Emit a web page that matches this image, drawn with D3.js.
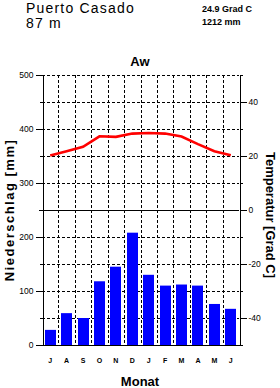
<!DOCTYPE html>
<html>
<head>
  <meta charset="utf-8">
  <script src="https://cdnjs.cloudflare.com/ajax/libs/d3/7.8.5/d3.min.js"></script>
  <style>
    body { margin: 0; background: #fff; }
    text { font-family: "Liberation Sans", Arial, Helvetica, sans-serif; fill: #000; }
    .grid { stroke: #000; stroke-width: 1; stroke-dasharray: 3,2; shape-rendering: crispEdges; }
    .axis path, .axis line { stroke: #000; shape-rendering: crispEdges; }
    .axis text { font-size: 8.5px; }
    .bold { font-weight: bold; }
  </style>
</head>
<body>
  <div id="chart"></div>
  <script>
    // station data
    const station = "Puerto Casado";
    const altitude = "87 m";
    const meanTemp = "24.9 Grad C";
    const totalPrecip = "1212 mm";
    const climateClass = "Aw";

    const months = ["J", "A", "S", "O", "N", "D", "J", "F", "M", "A", "M", "J"];
    const precip = [28, 59, 50, 118, 145, 208, 130, 110, 112, 110, 76, 67];
    const temp = [20.2, 21.8, 23.4, 27.3, 27.1, 28.3, 28.5, 28.3, 27.2, 24.4, 21.8, 20.3];

    const precipTicks = [0, 100, 200, 300, 400, 500];
    const precipMinor = [50, 150, 250, 350, 450];
    const tempTicks = [-40, -20, 0, 20, 40];
    const tempMinor = [-50, -30, -10, 10, 30, 50];

    const W = 280, H = 388;
    const plot = {left: 42, right: 239, top: 75, bottom: 345};

    const svg = d3.select("#chart").append("svg")
      .attr("width", W)
      .attr("height", H);

    const x = d3.scaleBand()
      .domain(d3.range(months.length))
      .range([plot.left, plot.right])
      .paddingInner(0.33)
      .paddingOuter(0.165);

    const xEdges = d3.scaleLinear()
      .domain([0, months.length])
      .range([plot.left, plot.right]);

    const yP = d3.scaleLinear().domain([0, 500]).range([plot.bottom, plot.top]);
    const yT = d3.scaleLinear().domain([-50, 50]).range([plot.bottom, plot.top]);

    // dashed grid
    svg.append("g").selectAll("line")
      .data(d3.range(1, months.length))
      .join("line")
      .attr("class", "grid")
      .attr("x1", d => Math.round(xEdges(d)) + 0.5)
      .attr("x2", d => Math.round(xEdges(d)) + 0.5)
      .attr("y1", plot.top)
      .attr("y2", plot.bottom);

    svg.append("g").selectAll("line")
      .data(d3.range(50, 501, 50).filter(v => v !== 250))
      .join("line")
      .attr("class", "grid")
      .attr("x1", plot.left)
      .attr("x2", plot.right)
      .attr("y1", d => Math.round(yP(d)) + 0.5)
      .attr("y2", d => Math.round(yP(d)) + 0.5);

    // bars
    svg.append("g").selectAll("rect")
      .data(precip)
      .join("rect")
      .attr("x", (d, i) => Math.round(x(i)))
      .attr("width", Math.round(x.bandwidth()))
      .attr("y", d => yP(d))
      .attr("height", d => yP(0) - yP(d))
      .attr("fill", "#0000ff");

    // zero-degree line
    svg.append("line")
      .attr("x1", plot.left - 3)
      .attr("x2", plot.right)
      .attr("y1", Math.round(yT(0)) + 0.5)
      .attr("y2", Math.round(yT(0)) + 0.5)
      .attr("stroke", "#000")
      .attr("shape-rendering", "crispEdges");

    // temperature line
    const line = d3.line()
      .x((d, i) => x(i) + x.bandwidth() / 2)
      .y(d => yT(d));

    svg.append("path")
      .datum(temp)
      .attr("d", line)
      .attr("fill", "none")
      .attr("stroke", "#ff0000")
      .attr("stroke-width", 2.6);

    // axes
    const plain = d => String(d);
    svg.append("g")
      .attr("class", "axis")
      .attr("transform", `translate(${plot.left + 0.5},0)`)
      .call(d3.axisLeft(yP).tickValues(precipTicks).tickFormat(plain).tickSize(7).tickSizeOuter(0).tickPadding(2));
    svg.append("g")
      .attr("class", "axis")
      .attr("transform", `translate(${plot.left + 0.5},0)`)
      .call(d3.axisLeft(yP).tickValues(precipMinor).tickSize(3).tickFormat("").tickSizeOuter(0));

    svg.append("g")
      .attr("class", "axis")
      .attr("transform", `translate(${plot.right + 0.5},0)`)
      .call(d3.axisRight(yT).tickValues(tempTicks).tickFormat(plain).tickSize(7).tickSizeOuter(0).tickPadding(2));
    svg.append("g")
      .attr("class", "axis")
      .attr("transform", `translate(${plot.right + 0.5},0)`)
      .call(d3.axisRight(yT).tickValues(tempMinor).tickSize(3).tickFormat("").tickSizeOuter(0));

    // bottom line
    svg.append("line")
      .attr("x1", plot.left)
      .attr("x2", plot.right + 1)
      .attr("y1", plot.bottom + 0.5)
      .attr("y2", plot.bottom + 0.5)
      .attr("stroke", "#000")
      .attr("shape-rendering", "crispEdges");

    // month labels
    svg.append("g").selectAll("text")
      .data(months)
      .join("text")
      .attr("class", "bold")
      .attr("x", (d, i) => x(i) + x.bandwidth() / 2)
      .attr("y", 363)
      .attr("text-anchor", "middle")
      .style("font-size", "7px")
      .text(d => d);

    // titles
    svg.append("text")
      .attr("x", 26).attr("y", 13)
      .style("font-size", "14px")
      .style("letter-spacing", "1.2px")
      .text(station);
    svg.append("text")
      .attr("x", 26).attr("y", 28)
      .style("font-size", "14px")
      .style("letter-spacing", "1.2px")
      .text(altitude);

    svg.append("text")
      .attr("class", "bold")
      .attr("x", 202).attr("y", 12)
      .style("font-size", "9px")
      .text(meanTemp);
    svg.append("text")
      .attr("class", "bold")
      .attr("x", 202).attr("y", 25)
      .style("font-size", "9px")
      .text(totalPrecip);

    svg.append("text")
      .attr("class", "bold")
      .attr("x", 140).attr("y", 66)
      .attr("text-anchor", "middle")
      .style("font-size", "13px")
      .text(climateClass);

    svg.append("text")
      .attr("class", "bold")
      .attr("x", 140).attr("y", 386)
      .attr("text-anchor", "middle")
      .style("font-size", "13px")
      .text("Monat");

    svg.append("text")
      .attr("class", "bold")
      .attr("transform", "translate(14,210) rotate(-90)")
      .attr("text-anchor", "middle")
      .style("font-size", "13px")
      .style("letter-spacing", "1.5px")
      .text("Niederschlag [mm]");

    svg.append("text")
      .attr("class", "bold")
      .attr("transform", "translate(266,215) rotate(90)")
      .attr("text-anchor", "middle")
      .style("font-size", "13px")
      .text("Temperatur [Grad C]");
  </script>
</body>
</html>
